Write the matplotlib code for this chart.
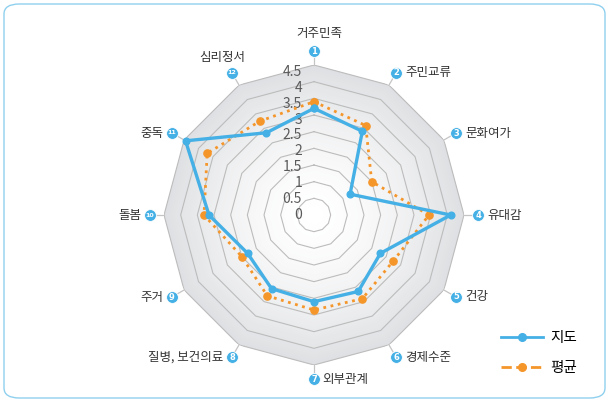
import numpy as np
import matplotlib
matplotlib.use('Agg')
import matplotlib.pyplot as plt
from matplotlib.lines import Line2D
from matplotlib.patches import FancyBboxPatch
from matplotlib import transforms

plt.rcParams['font.family'] = ['Noto Sans CJK KR', 'DejaVu Sans']

# data
categories = ['거주민족', '주민교류', '문화여가', '유대감', '건강', '경제수준',
              '외부관계', '질병, 보건의료', '주거', '돌봄', '중독', '심리정서']
jido = [3.2, 2.9, 1.25, 4.1, 2.3, 2.65, 2.6, 2.55, 2.3, 3.15, 4.45, 2.85]
avg = [3.4, 3.1, 2.0, 3.45, 2.75, 2.9, 2.85, 2.8, 2.5, 3.3, 3.7, 3.25]
r_ticks = [0, 0.5, 1, 1.5, 2, 2.5, 3, 3.5, 4, 4.5]
r_tick_labels = ['0', '0.5', '1', '1.5', '2', '2.5', '3', '3.5', '4', '4.5']
series_names = ['지도', '평균']

BLUE = '#45b0e5'
ORANGE = '#f5962a'
RMAX = 4.5
R_BADGE = 4.92

fig = plt.figure(figsize=(6.1, 4.03), dpi=100)
W, H = 610, 403

# rounded frame around everything
frame = FancyBboxPatch((4 / W, 5 / H), 601 / W, 394 / H,
                       boxstyle='round,pad=0,rounding_size=0.025',
                       transform=fig.transFigure, fc='white', ec='#8fd0ef',
                       lw=1.0, zorder=-10)
fig.patches.append(frame)

# polar axes centred at (314, 215) px, radius 150 px for 4.5
cx, cy, rad = 314, 215, 150
ax = fig.add_axes([(cx - rad) / W, (H - cy - rad) / H, 2 * rad / W, 2 * rad / H],
                  projection='polar')
ax.set_theta_zero_location('N')
ax.set_theta_direction(-1)
ax.set_ylim(0, RMAX)
ax.set_axis_off()

n = len(categories)
theta = np.arange(n) * 2 * np.pi / n
theta_c = np.append(theta, theta[0])

# radial gradient background
steps = 60
c_out = np.array([0.875, 0.88, 0.89])
c_in = np.array([1.0, 1.0, 1.0])
for k in range(steps, 0, -1):
    r = RMAX * k / steps
    f = (k / steps) ** 1.6
    col = c_in + (c_out - c_in) * f
    ax.fill(theta_c, [r] * (n + 1), color=col, lw=0, zorder=0)

# grid rings
for t in r_ticks[1:]:
    ax.plot(theta_c, [t] * (n + 1), color='#bcbcbc', lw=0.8, zorder=1)

# spokes outside + numbered badges + labels
label_pos = [(5, 17, 'center'), (9, 0, 'left'), (9, 0, 'left'), (9, 0, 'left'),
             (9, 0, 'left'), (9, 0, 'left'), (8, 0, 'left'), (-9, 0, 'right'),
             (-9, 0, 'right'), (-9, 0, 'right'), (-9, 0, 'right'), (-10, 15, 'center')]
for i, th in enumerate(theta):
    ax.plot([th, th], [RMAX, R_BADGE], color='#c4c4c4', lw=0.9, zorder=1,
            clip_on=False)
    ax.plot([th], [R_BADGE], marker='o', ms=8.5, color=BLUE, mec='white',
            mew=0.6, zorder=5, clip_on=False)
    fs = 6.0 if i < 9 else 4.6
    ax.text(th, R_BADGE, str(i + 1), color='white', fontsize=fs,
            fontweight='bold', ha='center', va='center', zorder=6,
            family='DejaVu Sans')
    dx, dy, ha = label_pos[i]
    ax.annotate(categories[i], xy=(th, R_BADGE), xytext=(dx, dy),
                textcoords='offset pixels', ha=ha, va='center',
                fontsize=9, color='#333333', annotation_clip=False)

# radial tick labels
off = transforms.offset_copy(ax.transData, fig=fig, x=-12, y=0, units='dots')
for t, lab in zip(r_ticks, r_tick_labels):
    ax.text(0, t * 0.955, lab, transform=off, ha='right', va='center',
            fontsize=10, color='#5a5a5a', zorder=4)

# series
ax.plot(theta_c, jido + jido[:1], color=BLUE, lw=2.4, marker='o', ms=4.8,
        zorder=8, clip_on=False)
ax.plot(theta_c, avg + avg[:1], color=ORANGE, lw=2.0, ls=':', marker='o',
        ms=5.2, zorder=7, clip_on=False)

handles = [Line2D([], [], color=BLUE, lw=2.0, marker='o', ms=5.5),
           Line2D([], [], color=ORANGE, lw=2.0, ls='--', marker='o', ms=5.5)]
fig.legend(handles, series_names, loc='center left',
           bbox_to_anchor=(488 / W, 1 - 353 / H), frameon=False,
           fontsize=10.5, handlelength=2.9, labelspacing=1.05,
           handletextpad=0.5)

fig.savefig('out.png', dpi=100)
